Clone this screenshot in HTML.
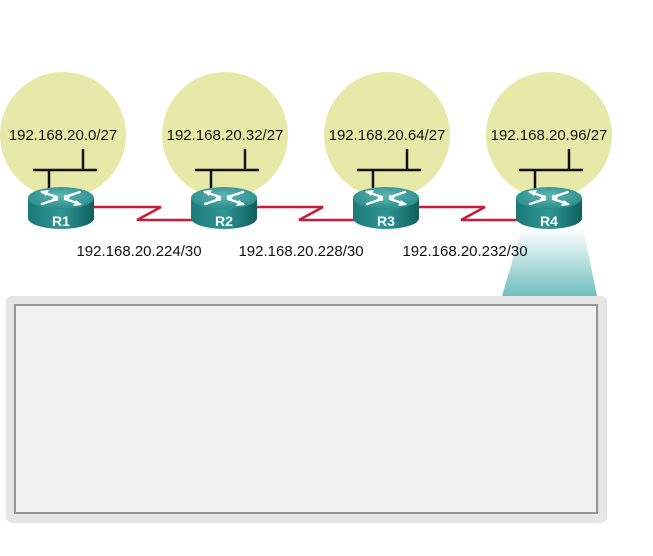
<!DOCTYPE html>
<html><head><style>
html,body{margin:0;padding:0;background:#fff;width:653px;height:556px;overflow:hidden}
svg text{font-family:"Liberation Sans",Arial,sans-serif}
</style></head><body>
<svg width="653" height="556" viewBox="0 0 653 556" xmlns="http://www.w3.org/2000/svg">
<defs>
<linearGradient id="beam" x1="0" y1="0" x2="0" y2="1">
<stop offset="0" stop-color="#ffffff"/><stop offset="1" stop-color="#6fbfbf"/>
</linearGradient>
<linearGradient id="body" x1="0" y1="0" x2="1" y2="0">
<stop offset="0" stop-color="#1c7a78"/><stop offset="0.5" stop-color="#2f9593"/><stop offset="1" stop-color="#0f5f5e"/>
</linearGradient>
<radialGradient id="top" cx="0.5" cy="0.4" r="0.6">
<stop offset="0" stop-color="#5cb5b3"/><stop offset="1" stop-color="#2a8c8a"/>
</radialGradient>
<g id="router">
<path d="M-33,0 L-33,20 A33,11 0 0 0 33,20 L33,0 Z" fill="url(#body)"/>
<ellipse cx="0" cy="0" rx="33" ry="11" fill="url(#top)"/>
<g stroke="#fff" stroke-width="2.4" fill="none" stroke-linecap="round">
<path d="M-19,-6 L-4,-1"/>
<path d="M19,-6 L4,-1"/>
<path d="M-19,6 L-4,1"/>
<path d="M19,6 L4,1"/>
</g>
<polygon points="-21,-7 -12,-8 -15,-2" fill="#fff"/>
<polygon points="3,-3 10,-3 7,2" fill="#fff"/>
<polygon points="-3,3 -10,3 -7,-2" fill="#fff"/>
<polygon points="21,7 12,8 15,2" fill="#fff"/>
</g>
</defs>

<g fill="#e6e9a8">
<circle cx="63" cy="135" r="63"/>
<circle cx="225" cy="135" r="63"/>
<circle cx="387" cy="135" r="63"/>
<circle cx="549" cy="135" r="63"/>
</g>

<polygon points="522,228 583,228 597,296 502,296" fill="url(#beam)"/>

<g stroke="#111" stroke-width="2.5" fill="none">
<path d="M33,170 H97 M83,149 V170 M49,170 V192"/>
<path d="M195,170 H259 M245,149 V170 M211,170 V192"/>
<path d="M357,170 H421 M407,149 V170 M373,170 V192"/>
<path d="M519,170 H583 M569,149 V170 M535,170 V192"/>
</g>

<g stroke="#c41e3a" stroke-width="2.5" fill="none">
<path d="M94,207 H161 L137,220 H193"/>
<path d="M256,207 H323 L299,220 H355"/>
<path d="M418,207 H485 L461,220 H518"/>
</g>

<g>
<use href="#router" x="61" y="198"/>
<use href="#router" x="224" y="198"/>
<use href="#router" x="386" y="198"/>
<use href="#router" x="549" y="198"/>
</g>
<g fill="#fff" font-weight="bold" font-size="14" text-anchor="middle">
<text x="61" y="226">R1</text><text x="224" y="226">R2</text>
<text x="386" y="226">R3</text><text x="549" y="226">R4</text>
</g>

<g fill="#111" font-size="15" text-anchor="middle">
<text x="63" y="140">192.168.20.0/27</text>
<text x="225" y="140">192.168.20.32/27</text>
<text x="387" y="140">192.168.20.64/27</text>
<text x="549" y="140">192.168.20.96/27</text>
<text x="139" y="256">192.168.20.224/30</text>
<text x="301" y="256">192.168.20.228/30</text>
<text x="465" y="256">192.168.20.232/30</text>
</g>

<rect x="6" y="296" width="601" height="227" rx="6" fill="#e7e6e6"/>
<rect x="15" y="305" width="582" height="208" fill="#f1f1f1" stroke="#8e9896" stroke-width="2"/>
</svg>
</body></html>
